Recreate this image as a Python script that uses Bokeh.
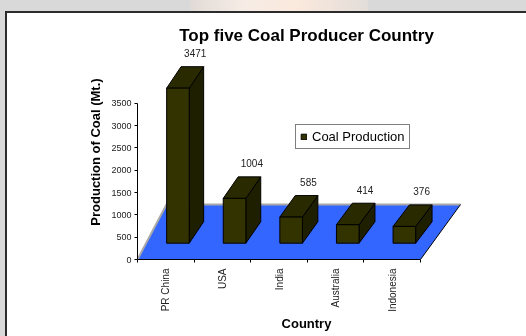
import math
from bokeh.plotting import figure
from bokeh.layouts import row, column
from bokeh.models import Range1d, FixedTicker, Legend, LegendItem, Spacer
from bokeh.embed import file_html
from bokeh.resources import INLINE
from bokeh.core.properties import value

# ---- data ----
countries = ["PR China", "USA", "India", "Australia", "Indonesia"]
production = [3471, 1004, 585, 414, 376]
y_ticks = [0, 500, 1000, 1500, 2000, 2500, 3000, 3500]
title_text = "Top five Coal Producer Country"
y_title = "Production of Coal (Mt.)"
x_title = "Country"
series_name = "Coal Production"

# ---- layout / projection parameters ----
OX, OY = 7, 13                      # white chart panel offset inside the slide
W, H = 526 - OX, 336 - OY
ML, MR, MT, MB = 137 - OX, 51, 44 - OY, 77
CAT_PX = 56.6          # pixels per category
VAL_PX = 0.04466       # pixels per unit of value
fw, fh = W - ML - MR, H - MT - MB
FONT = "Liberation Sans"

FRONT = "#333300"
TOP = "#2a2a00"
SIDE = "#1e1e00"
FLOOR = "#3366ff"

p = figure(width=W, height=H,
           x_range=Range1d(0, fw / CAT_PX), y_range=Range1d(0, fh / VAL_PX),
           output_backend="svg", toolbar_location=None,
           min_border_left=ML, min_border_right=MR,
           min_border_top=MT, min_border_bottom=MB)
p.border_fill_color = "white"
p.background_fill_color = "white"
p.outline_line_color = None
p.grid.visible = False

n = len(countries)
# floor (3D plane)
depth_val = 55 / VAL_PX
back_left = 29 / CAT_PX
back_right = 40 / CAT_PX
p.patch([0, n, n + back_right, back_left], [0, 0, depth_val, depth_val],
        fill_color=FLOOR, line_color=None)
p.line([0, back_left, n + back_right], [0, depth_val, depth_val],
       line_color="#a8a8a8", line_width=2)
p.line([n, n + back_right], [0, depth_val], line_color="black", line_width=1)

# bars
base = 16.3 / VAL_PX
bw = 22.6 / CAT_PX
dy = 21.5 / VAL_PX
fx, fy, tx, ty, sx, sy = [], [], [], [], [], []
lx, ly, lt = [], [], []
for i, v in enumerate(production):
    x0 = i + 0.5 + 0.015
    x1 = x0 + bw
    dx = (14.4 + 2.0 * i / (n - 1)) / CAT_PX
    y0 = base
    y1 = base + v
    fx.append([x0, x1, x1, x0]); fy.append([y0, y0, y1, y1])
    tx.append([x0, x1, x1 + dx, x0 + dx]); ty.append([y1, y1, y1 + dy, y1 + dy])
    sx.append([x1, x1 + dx, x1 + dx, x1]); sy.append([y0, y0 + dy, y1 + dy, y1])
    lx.append(i + 0.5 + 0.52)
    ly.append(y1 + dy + 13.6 / VAL_PX)
    lt.append(str(v))

p.patches(sx, sy, fill_color=SIDE, line_color="black", line_width=1)
p.patches(tx, ty, fill_color=TOP, line_color="black", line_width=1)
front = p.patches(fx, fy, fill_color=FRONT, line_color="black", line_width=1)

p.text(lx, ly, text=lt, text_font=value(FONT), text_font_size="10px",
       text_color="#222222", text_align="center", text_baseline="middle")

# legend
legend = Legend(items=[LegendItem(label=series_name, renderers=[front])],
                location=(158, 110), orientation="vertical")
legend.border_line_color = "black"
legend.border_line_width = 1
legend.background_fill_color = "white"
legend.background_fill_alpha = 1.0
legend.padding = 4
legend.margin = 0
legend.spacing = 0
legend.glyph_width = 7
legend.glyph_height = 7
legend.label_standoff = 5
legend.label_height = 12
legend.label_text_font = FONT
legend.label_text_font_size = "13px"
legend.label_text_color = "black"
p.add_layout(legend)

# title
p.title.text = title_text
p.title.align = "center"
p.title.text_font = FONT
p.title.text_font_size = "17px"
p.title.text_font_style = "bold"
p.title.text_color = "black"
p.title.standoff = 0

# y axis
ya = p.yaxis[0]
ya.ticker = FixedTicker(ticks=y_ticks)
ya.bounds = (0, y_ticks[-1])
ya.axis_label = y_title
ya.axis_label_text_font = FONT
ya.axis_label_text_font_size = "13px"
ya.axis_label_text_font_style = "bold"
ya.axis_label_text_color = "black"
ya.axis_label_standoff = 5
ya.major_label_text_font = FONT
ya.major_label_text_font_size = "9px"
ya.major_label_text_color = "#222222"
ya.major_label_standoff = 3
ya.major_tick_out = 3
ya.major_tick_in = 0
ya.minor_tick_out = 0
ya.minor_tick_in = 0
ya.axis_line_color = "black"
ya.major_tick_line_color = "black"

# x axis
xa = p.xaxis[0]
centers = [i + 0.5 for i in range(n)]
xa.ticker = FixedTicker(ticks=centers, minor_ticks=list(range(n + 1)))
xa.major_label_overrides = {c: name for c, name in zip(centers, countries)}
xa.major_label_orientation = math.pi / 2
xa.bounds = (0, n)
xa.axis_label = x_title
xa.axis_label_text_font = FONT
xa.axis_label_text_font_size = "13px"
xa.axis_label_text_font_style = "bold"
xa.axis_label_text_color = "black"
xa.axis_label_standoff = 1
xa.major_label_text_font = FONT
xa.major_label_text_font_size = "10px"
xa.major_label_text_color = "#222222"
xa.major_label_standoff = 6
xa.major_tick_out = 0
xa.major_tick_in = 0
xa.minor_tick_out = 3
xa.minor_tick_in = 0
xa.axis_line_color = "black"
xa.minor_tick_line_color = "black"

# place the chart panel inside the grey slide
layout = column(Spacer(width=526, height=OY),
                row(Spacer(width=OX, height=H), p, spacing=0),
                spacing=0)

head_css = ("<style>html { background: #d9d9d9 !important; } "
            "body { background: transparent !important; margin: 0 !important; }</style>")
backdrop = (
    '<div style="position:fixed;left:190px;top:0;width:178px;height:11px;'
    'background:linear-gradient(90deg,#e0dad6,#f6ece6 30%,#fbe9dd 60%,#e2ddd9);z-index:-2;"></div>'
    '<div style="position:fixed;left:5px;top:11px;width:560px;height:360px;'
    'background:#ffffff;border:2px solid #2b2b2b;box-sizing:border-box;z-index:-1;"></div>'
)
html = file_html(layout, INLINE, title=title_text)
k = html.rfind("</head>")
html = html[:k] + head_css + html[k:]
k = html.rfind("</body>")
html = html[:k] + backdrop + html[k:]
open("out.html", "w").write(html)
